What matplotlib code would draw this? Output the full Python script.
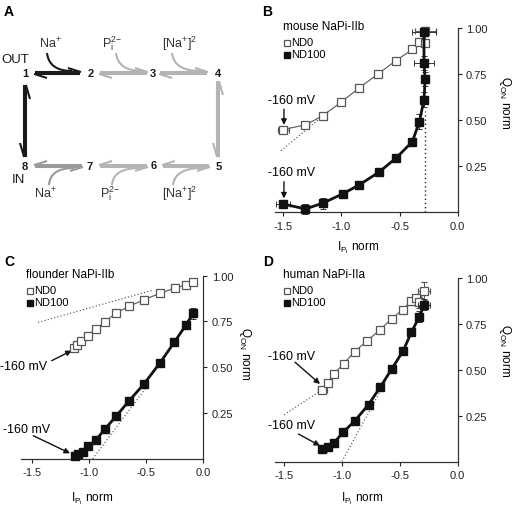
import numpy as np
import matplotlib
matplotlib.use("Agg")
import matplotlib.pyplot as plt
from matplotlib.path import Path
from matplotlib.patches import PathPatch

plt.rcParams['font.family'] = ['Liberation Sans', 'DejaVu Sans']
plt.rcParams['mathtext.fontset'] = 'custom'
plt.rcParams['mathtext.rm'] = 'Liberation Sans'
plt.rcParams['mathtext.it'] = 'Liberation Sans:italic'
plt.rcParams['mathtext.bf'] = 'Liberation Sans:bold'

# ---- data ----
# B: mouse NaPi-IIb
b0_x = [-1.50, -1.31, -1.16, -1.00, -0.85, -0.69, -0.53, -0.39, -0.33, -0.28, -0.28]
b0_y = [0.45, 0.475, 0.525, 0.60, 0.675, 0.75, 0.825, 0.885, 0.925, 0.92, 0.985]
b0_xerr = [0.05, 0.03, 0.01, 0.01, 0.01, 0.01, 0.01, 0.01, 0.01, 0.02, 0.09]
b0_yerr = [0.01, 0.01, 0.01, 0.01, 0.01, 0.01, 0.01, 0.01, 0.01, 0.01, 0.02]
b1_x = [-1.50, -1.31, -1.16, -0.99, -0.85, -0.68, -0.53, -0.39, -0.33, -0.29, -0.28, -0.29, -0.29]
b1_y = [0.045, 0.018, 0.05, 0.10, 0.148, 0.217, 0.295, 0.384, 0.492, 0.612, 0.724, 0.811, 0.98]
b1_xerr = [0.06, 0.02, 0.01, 0.01, 0.01, 0.01, 0.01, 0.02, 0.02, 0.02, 0.03, 0.09, 0.10]
b1_yerr = [0.01, 0.025, 0.03, 0.01, 0.01, 0.01, 0.01, 0.02, 0.04, 0.04, 0.04, 0.04, 0.02]
b_fit_x = [-1.52, -1.10]
b_fit_y = [0.335, 0.555]
b_vline_x = -0.285
b_vline_y = [0.0, 0.55]

# C: flounder NaPi-IIb
c0_x = [-1.13, -1.105, -1.07, -1.01, -0.94, -0.86, -0.77, -0.65, -0.52, -0.38, -0.25, -0.15, -0.09]
c0_y = [0.605, 0.622, 0.642, 0.673, 0.709, 0.749, 0.795, 0.833, 0.869, 0.904, 0.932, 0.951, 0.964]
c1_x = [-1.125, -1.096, -1.058, -1.009, -0.941, -0.862, -0.766, -0.649, -0.52, -0.38, -0.254, -0.152, -0.088]
c1_y = [0.017, 0.026, 0.039, 0.068, 0.104, 0.163, 0.232, 0.318, 0.409, 0.524, 0.637, 0.731, 0.795]
c1_yerr = [0.005, 0.005, 0.005, 0.005, 0.005, 0.005, 0.005, 0.005, 0.005, 0.005, 0.01, 0.02, 0.03]
c_fit1_x = [-1.45, -0.45]
c_fit1_y = [0.745, 0.92]
c_fit2_x = [-0.97, -0.50]
c_fit2_y = [0.0, 0.39]

# D: human NaPi-IIa
d0_x = [-1.17, -1.12, -1.07, -0.985, -0.89, -0.78, -0.67, -0.57, -0.475, -0.40, -0.36, -0.33, -0.29]
d0_y = [0.39, 0.43, 0.478, 0.534, 0.60, 0.66, 0.72, 0.779, 0.829, 0.875, 0.89, 0.87, 0.93]
d0_xerr = [0.04, 0.01, 0.01, 0.01, 0.01, 0.01, 0.01, 0.01, 0.01, 0.02, 0.03, 0.03, 0.05]
d0_yerr = [0.01, 0.01, 0.01, 0.01, 0.01, 0.01, 0.01, 0.01, 0.01, 0.02, 0.02, 0.03, 0.05]
d1_x = [-1.17, -1.12, -1.07, -0.99, -0.89, -0.77, -0.67, -0.57, -0.47, -0.40, -0.33, -0.29]
d1_y = [0.068, 0.077, 0.101, 0.159, 0.221, 0.311, 0.405, 0.505, 0.605, 0.706, 0.791, 0.855]
d1_xerr = [0.04, 0.01, 0.01, 0.01, 0.01, 0.01, 0.01, 0.01, 0.01, 0.02, 0.03, 0.05]
d1_yerr = [0.01, 0.01, 0.01, 0.01, 0.01, 0.01, 0.01, 0.01, 0.01, 0.02, 0.03, 0.03]
d_fit1_x = [-1.50, -1.10]
d_fit1_y = [0.255, 0.42]
d_fit2_x = [-1.00, -0.62]
d_fit2_y = [0.0, 0.44]

xticks = [-1.5, -1.0, -0.5, 0.0]
xticklabels = ['-1.5', '-1.0', '-0.5', '0.0']
yticks = [0.25, 0.50, 0.75, 1.00]
yticklabels = ['0.25', '0.50', '0.75', '1.00']

W, H = 514, 506
fig = plt.figure(figsize=(W / 100, H / 100), dpi=100)


def px(x, y):
    return x / W, 1 - y / H


# ---- panel A: kinetic scheme ----
axA = fig.add_axes([0, 1 - 230 / H, 257 / W, 230 / H])
axA.set_xlim(0, 257)
axA.set_ylim(230, 0)
axA.axis('off')

BLACK = '#1a1a1a'
LIGHT = '#b4b4b4'
MID = '#9a9a9a'
LW = 1.5


def harpoon(x0, x1, y, col, flip=False):
    s = -1 if flip else 1
    d = 1.2
    axA.plot([x0, x1], [y - s * d, y - s * d], color=col, lw=LW, solid_capstyle='butt')
    axA.plot([x1, x1 - 11], [y - s * d, y - s * (d + 3.5)], color=col, lw=LW)
    axA.plot([x0, x1], [y + s * d, y + s * d], color=col, lw=LW, solid_capstyle='butt')
    axA.plot([x0, x0 + 11], [y + s * d, y + s * (d + 3.5)], color=col, lw=LW)


def vharpoon(x, y0, y1, col):
    d = 1.2
    axA.plot([x + d, x + d], [y0, y1], color=col, lw=LW)
    axA.plot([x + d, x + d + 3.5], [y0, y0 + 12], color=col, lw=LW)
    axA.plot([x - d, x - d], [y0, y1], color=col, lw=LW)
    axA.plot([x - d, x - d - 3.5], [y1, y1 - 12], color=col, lw=LW)


def curve(p0, p1, p2, col):
    path = Path([p0, p1, p2], [Path.MOVETO, Path.CURVE3, Path.CURVE3])
    axA.add_patch(PathPatch(path, fc='none', ec=col, lw=LW))


harpoon(35, 80, 74, BLACK)
harpoon(100, 147, 74, LIGHT)
harpoon(160, 207, 74, LIGHT)
harpoon(35, 82, 167, MID, flip=True)
harpoon(100, 147, 167, LIGHT, flip=True)
harpoon(163, 209, 167, LIGHT, flip=True)
vharpoon(25, 87, 157, BLACK)
vharpoon(218, 83, 157, LIGHT)

curve((47, 54), (49, 72), (72, 72), BLACK)
curve((116, 54), (118, 72), (142, 72), LIGHT)
curve((172, 54), (174, 72), (200, 72), LIGHT)
curve((49, 186), (50, 169), (74, 169), MID)
curve((112, 186), (113, 169), (140, 169), LIGHT)
curve((173, 186), (175, 169), (202, 169), LIGHT)

nodes = [(25, 74, '1'), (90.7, 74, '2'), (153.3, 74, '3'), (218.3, 74, '4'),
         (218.3, 166.7, '5'), (154, 165.7, '6'), (90, 166.7, '7'), (25, 166.7, '8')]
for nx, ny, lab in nodes:
    axA.text(nx, ny, lab, ha='center', va='center', fontsize=8, fontweight='bold', color=BLACK)
axA.text(15, 60, 'OUT', ha='center', va='center', fontsize=9.5, color=BLACK)
axA.text(18, 180, 'IN', ha='center', va='center', fontsize=9.5, color=BLACK)
ions = [(50, 44, r'Na$^{+}$'), (112, 44, r'P$_{\mathrm{i}}^{2\mathrm{-}}$'), (180, 44, r'[Na$^{+}$]$^{2}$'),
        (45, 194, r'Na$^{+}$'), (110, 194, r'P$_{\mathrm{i}}^{2\mathrm{-}}$'), (180, 194, r'[Na$^{+}$]$^{2}$')]
for ix, iy, lab in ions:
    axA.text(ix, iy, lab, ha='center', va='center', fontsize=9, color='#333333')

# ---- panels B, C, D ----
axB = fig.add_axes([275 / W, 1 - 213.3 / H, 182.7 / W, 184 / H])
axC = fig.add_axes([20.7 / W, 1 - 459.8 / H, 182.6 / W, 183.1 / H])
axD = fig.add_axes([275 / W, 1 - 462.5 / H, 182.7 / W, 183.2 / H])


def style(ax, xmin, xlab_pos, ylab_pos):
    ax.set_xlim(xmin, 0)
    ax.set_ylim(0, 1.0)
    for s in ['left', 'top']:
        ax.spines[s].set_visible(False)
    for s in ['right', 'bottom']:
        ax.spines[s].set_color('#333333')
        ax.spines[s].set_linewidth(0.9)
    ax.yaxis.tick_right()
    ax.yaxis.set_label_position('right')
    ax.set_xticks(xticks)
    ax.set_xticklabels(xticklabels)
    ax.set_yticks(yticks)
    ax.set_yticklabels(yticklabels)
    ax.tick_params(direction='out', length=3, width=0.8, labelsize=8, pad=3, colors='#222222')
    ax.set_xlabel(r'I$_{\mathrm{P}_{\mathrm{i}}}$ norm', fontsize=8.5)
    ax.xaxis.set_label_coords(*xlab_pos)
    ax.set_ylabel(r'Q$_{\mathrm{ON}}$ norm', fontsize=8.5, rotation=-90)
    ax.yaxis.set_label_coords(*ylab_pos)
    ax.yaxis.label.set_va('center')
    ax.yaxis.label.set_ha('center')


def series(ax, x, y, xerr, yerr, filled):
    if filled:
        ax.errorbar(x, y, xerr=xerr, yerr=yerr, fmt='-s', color='#111111', lw=2,
                    ms=5.5, mfc='#111111', mec='#111111', ecolor='#333333',
                    elinewidth=0.7, capsize=2, capthick=0.7, clip_on=False, zorder=4)
    else:
        ax.errorbar(x, y, xerr=xerr, yerr=yerr, fmt='-s', color='#555555', lw=0.8,
                    ms=5.5, mfc='white', mec='#555555', mew=0.9, ecolor='#555555',
                    elinewidth=0.7, capsize=2, capthick=0.7, clip_on=False, zorder=3)


def legend(title, x, y):
    fig.text(*px(x - 1, y), title, fontsize=8.5, ha='left', va='center')
    fig.lines.append(plt.Line2D([(x + 3) / W], [1 - (y + 16.5) / H], transform=fig.transFigure,
                                marker='s', ms=5, mfc='white', mec='#555555', mew=0.9, ls='none'))
    fig.text(*px(x + 7, y + 16.5), 'ND0', fontsize=8, ha='left', va='center')
    fig.lines.append(plt.Line2D([(x + 3) / W], [1 - (y + 28.5) / H], transform=fig.transFigure,
                                marker='s', ms=5, mfc='#111111', mec='#111111', ls='none'))
    fig.text(*px(x + 7, y + 28.5), 'ND100', fontsize=8, ha='left', va='center')


def mv(ax, tx, ty, tail, head):
    ax.text(tx, ty, '-160 mV', fontsize=9, ha='left', va='center', clip_on=False)
    ax.annotate('', xy=head, xytext=tail, annotation_clip=False,
                arrowprops=dict(arrowstyle='-|>', color='#111111', lw=1.0,
                                mutation_scale=8, shrinkA=0, shrinkB=0))


# B
style(axB, -1.572, (0.456, -0.14), (1.26, 0.60))
axB.plot(b_fit_x, b_fit_y, ls=(0, (1, 2)), color='#444444', lw=0.8)
axB.plot([b_vline_x, b_vline_x], b_vline_y, ls=(0, (1, 2)), color='#222222', lw=1.0)
series(axB, b0_x, b0_y, b0_xerr, b0_yerr, False)
series(axB, b1_x, b1_y, b1_xerr, b1_yerr, True)
mv(axB, -1.63, 0.612, (-1.495, 0.56), (-1.495, 0.475))
mv(axB, -1.63, 0.217, (-1.495, 0.166), (-1.495, 0.075))
legend('mouse NaPi-IIb', 284, 27)
fig.text(*px(262, 12), 'B', fontsize=10, fontweight='bold', ha='left', va='center')

# C
style(axC, -1.602, (0.39, -0.165), (1.23, 0.58))
axC.plot(c_fit1_x, c_fit1_y, ls=(0, (1, 2)), color='#444444', lw=0.8)
axC.plot(c_fit2_x, c_fit2_y, ls=(0, (1, 2)), color='#444444', lw=0.8)
series(axC, c0_x, c0_y, None, None, False)
series(axC, c1_x, c1_y, None, c1_yerr, True)
mv(axC, -1.783, 0.509, (-1.33, 0.536), (-1.154, 0.591))
mv(axC, -1.754, 0.163, (-1.491, 0.126), (-1.169, 0.03))
legend('flounder NaPi-IIb', 27, 275)
fig.text(*px(4, 262), 'C', fontsize=10, fontweight='bold', ha='left', va='center')

# D
style(axD, -1.578, (0.478, -0.15), (1.26, 0.61))
axD.plot(d_fit1_x, d_fit1_y, ls=(0, (1, 2)), color='#444444', lw=0.8)
axD.plot(d_fit2_x, d_fit2_y, ls=(0, (1, 2)), color='#444444', lw=0.8)
series(axD, d0_x, d0_y, d0_xerr, d0_yerr, False)
series(axD, d1_x, d1_y, d1_xerr, d1_yerr, True)
mv(axD, -1.636, 0.578, (-1.405, 0.542), (-1.189, 0.423))
mv(axD, -1.636, 0.201, (-1.376, 0.15), (-1.189, 0.086))
legend('human NaPi-IIa', 284, 275)
fig.text(*px(263, 262), 'D', fontsize=10, fontweight='bold', ha='left', va='center')

fig.text(*px(4, 12), 'A', fontsize=10, fontweight='bold', ha='left', va='center')

fig.savefig('out.png', dpi=100)
